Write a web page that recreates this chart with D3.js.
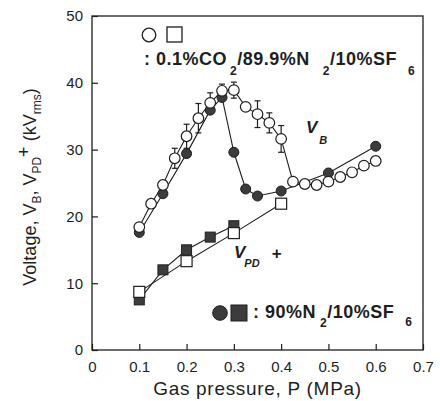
<!DOCTYPE html>
<html>
<head>
<meta charset="utf-8">
<script src="https://cdn.jsdelivr.net/npm/d3@7"></script>
<style>
  body { margin: 0; background: #fff; }
  svg { font-family: "Liberation Sans", Arial, sans-serif; }
</style>
</head>
<body>
<div id="chart"></div>
<script>
// breakdown voltage, 0.1%CO2/89.9%N2/10%SF6 (open circles)
const pOpen = [0.1, 0.125, 0.15, 0.175, 0.2, 0.225, 0.25, 0.275, 0.3, 0.325, 0.35,
               0.375, 0.4, 0.425, 0.45, 0.475, 0.5, 0.525, 0.55, 0.575, 0.6];
const vbOpen = [18.4, 21.9, 24.7, 28.7, 32.0, 34.7, 37.0, 38.8, 38.9, 36.4, 35.3,
                34.0, 31.6, 25.2, 24.85, 24.7, 25.2, 25.9, 26.6, 27.6, 28.3];
const errOpen = [0, 0, 0, 1.5, 1.8, 2.2, 1.5, 1.0, 1.2, 0, 2.0,
                 1.5, 2.0, 0, 0, 0, 0, 0, 0, 0, 0.6];
// breakdown voltage, 90%N2/10%SF6 (filled circles)
const pFilled = [0.1, 0.15, 0.2, 0.25, 0.275, 0.3, 0.325, 0.35, 0.4, 0.5, 0.6];
const vbFilled = [17.6, 23.4, 29.4, 35.9, 37.8, 29.6, 24.1, 23.05, 23.8, 26.5, 30.5];
// PD inception voltage
const pdOpenP = [0.1, 0.2, 0.3, 0.4];
const pdOpen = [8.7, 13.3, 17.5, 21.9];
const pdFilledP = [0.1, 0.15, 0.2, 0.25, 0.3];
const pdFilled = [7.5, 12.0, 15.0, 16.9, 18.6];

const xTicks = [0, 0.1, 0.2, 0.3, 0.4, 0.5, 0.6, 0.7];
const yTicks = [0, 10, 20, 30, 40, 50];

const W = 440, H = 401;
const margin = {top: 16, right: 17, bottom: 51, left: 92};
const width = W - margin.left - margin.right;
const height = H - margin.top - margin.bottom;
const ink = "#1e1e1e";
const dark = "#3c3c3c";

var svg = d3.select("#chart").append("svg")
	.attr("width", W).attr("height", H);
var g = svg.append("g")
	.attr("transform", "translate(" + margin.left + "," + margin.top + ")");

var x = d3.scaleLinear().domain([0, 0.7]).range([0, width]);
var y = d3.scaleLinear().domain([0, 50]).range([height, 0]);

// frame
g.append("rect")
	.attr("width", width).attr("height", height)
	.attr("fill", "none").attr("stroke", ink).attr("stroke-width", 1.3);

// axes with inward ticks
var xAxis = g.append("g")
	.attr("transform", `translate(0,${height})`)
	.call(d3.axisBottom(x).tickValues(xTicks).tickSizeInner(-6).tickSizeOuter(0)
		.tickPadding(11).tickFormat(d => d === 0 ? "0" : d3.format(".1f")(d)));
var yAxis = g.append("g")
	.call(d3.axisLeft(y).tickValues(yTicks).tickSizeInner(-6).tickSizeOuter(0)
		.tickPadding(9));
[xAxis, yAxis].forEach(a => {
	a.select(".domain").remove();
	a.selectAll("line").attr("stroke", ink).attr("stroke-width", 1.2);
	a.selectAll("text").attr("fill", ink).style("font-size", "15px")
		.style("font-family", "Liberation Sans, Arial, sans-serif");
});

// lines
const line = d3.line().x(d => x(d[0])).y(d => y(d[1]));
const series = [
	d3.zip(pOpen, vbOpen), d3.zip(pFilled, vbFilled),
	d3.zip(pdOpenP, pdOpen), d3.zip(pdFilledP, pdFilled)
];
series.forEach(s => {
	g.append("path").datum(s).attr("d", line)
		.attr("fill", "none").attr("stroke", ink).attr("stroke-width", 1.1);
});

// error bars
const errData = d3.zip(pOpen, vbOpen, errOpen).filter(d => d[2] > 0);
var eb = g.append("g").attr("stroke", ink).attr("stroke-width", 1.2);
errData.forEach(d => {
	eb.append("line").attr("x1", x(d[0])).attr("x2", x(d[0]))
		.attr("y1", y(d[1] + d[2])).attr("y2", y(d[1] - d[2]));
	[d[1] + d[2], d[1] - d[2]].forEach(v => {
		eb.append("line").attr("x1", x(d[0]) - 3).attr("x2", x(d[0]) + 3)
			.attr("y1", y(v)).attr("y2", y(v));
	});
});

// markers
g.selectAll(".sqF").data(d3.zip(pdFilledP, pdFilled)).enter().append("rect")
	.attr("x", d => x(d[0]) - 5).attr("y", d => y(d[1]) - 5)
	.attr("width", 10).attr("height", 10)
	.attr("fill", dark).attr("stroke", ink).attr("stroke-width", 1);
g.selectAll(".sqO").data(d3.zip(pdOpenP, pdOpen)).enter().append("rect")
	.attr("x", d => x(d[0]) - 5.5).attr("y", d => y(d[1]) - 5.5)
	.attr("width", 11).attr("height", 11)
	.attr("fill", "#fff").attr("stroke", ink).attr("stroke-width", 1.2);
g.selectAll(".ciF").data(d3.zip(pFilled, vbFilled)).enter().append("circle")
	.attr("cx", d => x(d[0])).attr("cy", d => y(d[1])).attr("r", 5)
	.attr("fill", dark).attr("stroke", ink).attr("stroke-width", 1);
g.selectAll(".ciO").data(d3.zip(pOpen, vbOpen)).enter().append("circle")
	.attr("cx", d => x(d[0])).attr("cy", d => y(d[1])).attr("r", 5.3)
	.attr("fill", "#fff").attr("stroke", ink).attr("stroke-width", 1.2);

// legend 1 (open symbols)
svg.append("circle").attr("cx", 149).attr("cy", 35).attr("r", 6.8)
	.attr("fill", "#fff").attr("stroke", ink).attr("stroke-width", 1.3);
svg.append("rect").attr("x", 167).attr("y", 27).attr("width", 15).attr("height", 15)
	.attr("fill", "#fff").attr("stroke", ink).attr("stroke-width", 1.3);
var t1 = svg.append("text").attr("x", 144).attr("y", 65)
	.attr("fill", ink).style("font-size", "18px").style("font-weight", "bold")
	.style("letter-spacing", "0.5px");
t1.append("tspan").text(": 0.1%CO");
t1.append("tspan").attr("dx", 3).attr("dy", 10).style("font-size", "12px").text("2");
t1.append("tspan").attr("dy", -10).text("/89.9%N");
t1.append("tspan").attr("dx", 13).attr("dy", 10).style("font-size", "12px").text("2");
t1.append("tspan").attr("dy", -10).text("/10%SF");
t1.append("tspan").attr("dx", 11).attr("dy", 10).style("font-size", "12px").text("6");

// legend 2 (filled symbols)
svg.append("circle").attr("cx", 220).attr("cy", 313).attr("r", 7.3)
	.attr("fill", dark).attr("stroke", ink).attr("stroke-width", 1);
svg.append("rect").attr("x", 231).attr("y", 305).attr("width", 16).attr("height", 16)
	.attr("fill", dark).attr("stroke", ink).attr("stroke-width", 1);
var t2 = svg.append("text").attr("x", 253).attr("y", 318)
	.attr("fill", ink).style("font-size", "18px").style("font-weight", "bold")
	.style("letter-spacing", "0.5px");
t2.append("tspan").text(": 90%N");
t2.append("tspan").attr("dx", 4).attr("dy", 9).style("font-size", "12px").text("2");
t2.append("tspan").attr("dy", -9).text("/10%SF");
t2.append("tspan").attr("dx", 11).attr("dy", 8).style("font-size", "12px").text("6");

// curve labels
var vb = svg.append("text").attr("x", 306).attr("y", 133).attr("fill", ink)
	.style("font-size", "17px").style("font-weight", "bold").style("font-style", "italic");
vb.append("tspan").text("V");
vb.append("tspan").attr("dx", 2).attr("dy", 11).style("font-size", "11px").text("B");
var vpd = svg.append("text").attr("x", 234).attr("y", 258).attr("fill", ink)
	.style("font-size", "17px").style("font-weight", "bold").style("font-style", "italic");
vpd.append("tspan").text("V");
vpd.append("tspan").attr("dx", -1).attr("dy", 9).style("font-size", "11px").text("PD");
vpd.append("tspan").attr("dx", 12).attr("dy", -8).style("font-style", "normal").text("+");

// axis titles
svg.append("text").attr("x", margin.left + x(0.35)).attr("y", 395)
	.attr("text-anchor", "middle").attr("fill", ink).style("font-size", "19px")
	.style("letter-spacing", "0.7px")
	.text("Gas pressure, P (MPa)");
var yt = svg.append("text")
	.attr("transform", "translate(36," + (margin.top + height / 2 + 4) + ") rotate(-90)")
	.attr("text-anchor", "middle").attr("fill", ink).style("font-size", "18px");
yt.append("tspan").text("Voltage, V");
yt.append("tspan").attr("dy", 5).style("font-size", "12px").text("B");
yt.append("tspan").attr("dy", -5).text(", V");
yt.append("tspan").attr("dy", 5).style("font-size", "12px").text("PD");
yt.append("tspan").attr("dy", -11).text("+");
yt.append("tspan").attr("dy", 6).text(" (kV");
yt.append("tspan").attr("dy", 5).style("font-size", "12px").text("rms");
yt.append("tspan").attr("dy", -5).text(")");
</script>
</body>
</html>
